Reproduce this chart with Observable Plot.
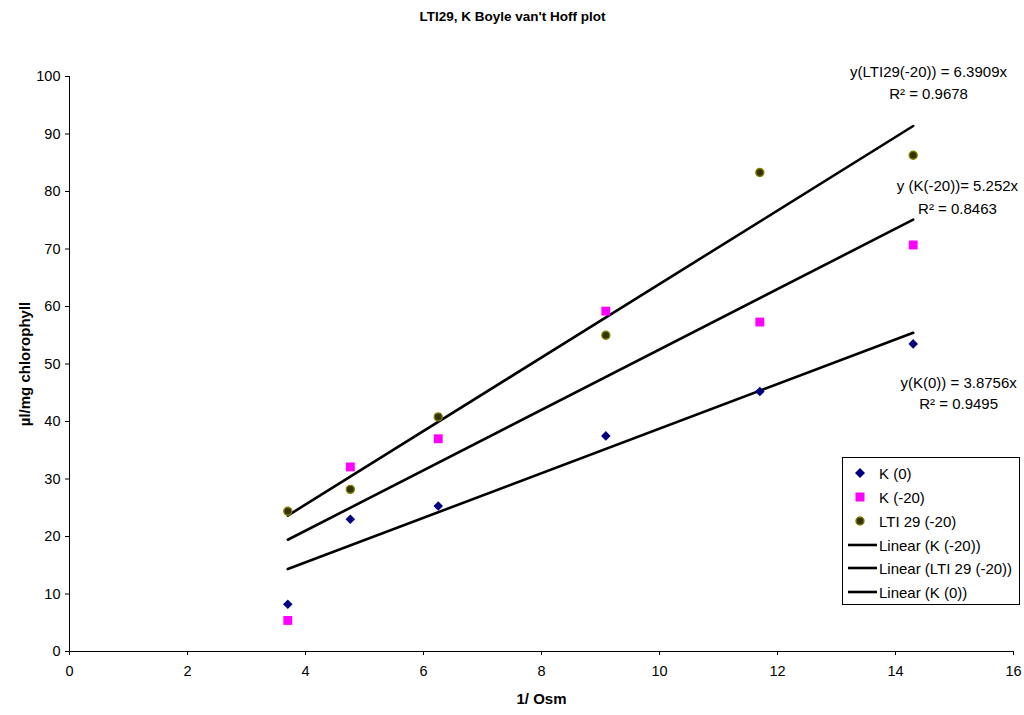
<!DOCTYPE html>
<html>
<head>
<meta charset="utf-8">
<script src="https://cdn.jsdelivr.net/npm/d3@7"></script>
<script src="https://cdn.jsdelivr.net/npm/@observablehq/plot@0.6"></script>
<style>
  html, body { margin: 0; padding: 0; background: #fff; }
  body { width: 1024px; height: 715px; position: relative; overflow: hidden; font-family: "Liberation Sans", Arial, sans-serif; }
  #legend { position: absolute; left: 842px; top: 457px; width: 178px; height: 148px; border: 1px solid #000; box-sizing: border-box; background: #fff; font-size: 15px; }
  #legend .row { position: absolute; left: 0; height: 18px; display: flex; align-items: center; white-space: nowrap; }
  #legend svg { display: block; }
</style>
</head>
<body>
<div id="chart"></div>
<div id="legend"></div>
<script>
// ---- data ----
const invOsm = [3.7, 4.76, 6.25, 9.09, 11.7, 14.3];
const k0     = [8.2, 23.0, 25.3, 37.5, 45.2, 53.5];
const km20   = [5.4, 32.1, 37.0, 59.2, 57.3, 70.7];
const lti29  = [24.4, 28.2, 40.8, 55.0, 83.3, 86.3];
const seriesNames = ["K (0)", "K (-20)", "LTI 29 (-20)"];
const slopes = [3.8756, 5.252, 6.3909];
const eqLabels = ["y(K(0)) = 3.8756x", "y (K(-20))= 5.252x", "y(LTI29(-20)) = 6.3909x"];
const r2Labels = ["R² = 0.9495", "R² = 0.8463", "R² = 0.9678"];
const eqPosX = [15.07, 15.05, 14.56];
const eqPosY = [46.6, 81.0, 100.7];
const r2PosY = [43.0, 77.0, 97.0];
const xTicks = [0, 2, 4, 6, 8, 10, 12, 14, 16];
const yTicks = [0, 10, 20, 30, 40, 50, 60, 70, 80, 90, 100];
const legendNames = ["K (0)", "K (-20)", "LTI 29 (-20)", "Linear (K (-20))", "Linear (LTI 29 (-20))", "Linear (K (0))"];

const seriesVals = [k0, km20, lti29];
const points = seriesVals.map((vals, s) => invOsm.map((x, i) => ({x, y: vals[i], s: seriesNames[s]})));
const xmin = d3.min(invOsm), xmax = d3.max(invOsm);
const trend = slopes.map((m, s) => [xmin, xmax].map(x => ({x, y: m * x, s: seriesNames[s]})));
const annots = slopes.map((m, s) => ({x: eqPosX[s], y: eqPosY[s], y2: r2PosY[s], eq: eqLabels[s], r2: r2Labels[s]}));

const font = "Liberation Sans, Arial, sans-serif";

const chart = Plot.plot({
  width: 1024,
  height: 715,
  marginLeft: 69,
  marginRight: 11,
  marginTop: 76,
  marginBottom: 64,
  style: {fontFamily: font, fontSize: "14.5px", background: "#fff", color: "#000", overflow: "visible"},
  x: {domain: [0, 16]},
  y: {domain: [0, 100]},
  marks: [
    Plot.axisY({ticks: yTicks, tickSize: 4, tickPadding: 5, label: null, fontSize: 14.5}),
    Plot.axisX({ticks: xTicks, tickSize: 4, tickPadding: 10, label: null, fontSize: 14.5}),
    Plot.ruleX([0], {stroke: "#000", strokeWidth: 1}),
    Plot.ruleY([0], {stroke: "#000", strokeWidth: 1}),
    ...trend.map(t => Plot.line(t, {x: "x", y: "y", stroke: "#000", strokeWidth: 2.6})),
    Plot.dot(points[0], {x: "x", y: "y", symbol: "diamond2", r: 4.3, fill: "#000080", stroke: "none"}),
    Plot.dot(points[1], {x: "x", y: "y", symbol: "square", r: 5, fill: "#ff00ff", stroke: "none"}),
    Plot.dot(points[2], {x: "x", y: "y", symbol: "circle", r: 4, fill: "#333300", stroke: "#808000", strokeWidth: 1.4}),
    Plot.text(annots, {x: "x", y: "y", text: "eq", fontSize: 15, textAnchor: "middle"}),
    Plot.text(annots, {x: "x", y: "y2", text: "r2", fontSize: 15, textAnchor: "middle"}),
    Plot.text(["LTI29, K Boyle van't Hoff plot"], {frameAnchor: "top", dy: -65, dx: -29, fontWeight: "bold", fontSize: 13.5, textAnchor: "middle"}),
    Plot.text(["µl/mg chlorophyll"], {frameAnchor: "left", rotate: -90, dx: -44, fontWeight: "bold", fontSize: 15, textAnchor: "middle"}),
    Plot.text(["1/ Osm"], {frameAnchor: "bottom", dy: 52, fontWeight: "bold", fontSize: 15, textAnchor: "middle"})
  ]
});
document.getElementById("chart").appendChild(chart);

// ---- legend ----
const legend = document.getElementById("legend");
const rowTops = [6, 30, 54, 78, 101, 125];
const symbolSvgs = [
  '<svg width="34" height="18"><path d="M17,4 L22,9 L17,14 L12,9 Z" fill="#000080"/></svg>',
  '<svg width="34" height="18"><rect x="12.5" y="4.5" width="9" height="9" fill="#ff00ff"/></svg>',
  '<svg width="34" height="18"><circle cx="17" cy="9" r="4" fill="#333300" stroke="#808000" stroke-width="1.4"/></svg>',
  '<svg width="34" height="18"><line x1="5" y1="9" x2="34" y2="9" stroke="#000" stroke-width="2.6"/></svg>',
  '<svg width="34" height="18"><line x1="5" y1="9" x2="34" y2="9" stroke="#000" stroke-width="2.6"/></svg>',
  '<svg width="34" height="18"><line x1="5" y1="9" x2="34" y2="9" stroke="#000" stroke-width="2.6"/></svg>'
];
legendNames.forEach((name, i) => {
  const row = document.createElement("div");
  row.className = "row";
  row.style.top = rowTops[i] + "px";
  row.style.left = "0px";
  row.innerHTML = symbolSvgs[i] + '<span style="margin-left:2px">' + name + '</span>';
  legend.appendChild(row);
});
</script>
</body>
</html>
